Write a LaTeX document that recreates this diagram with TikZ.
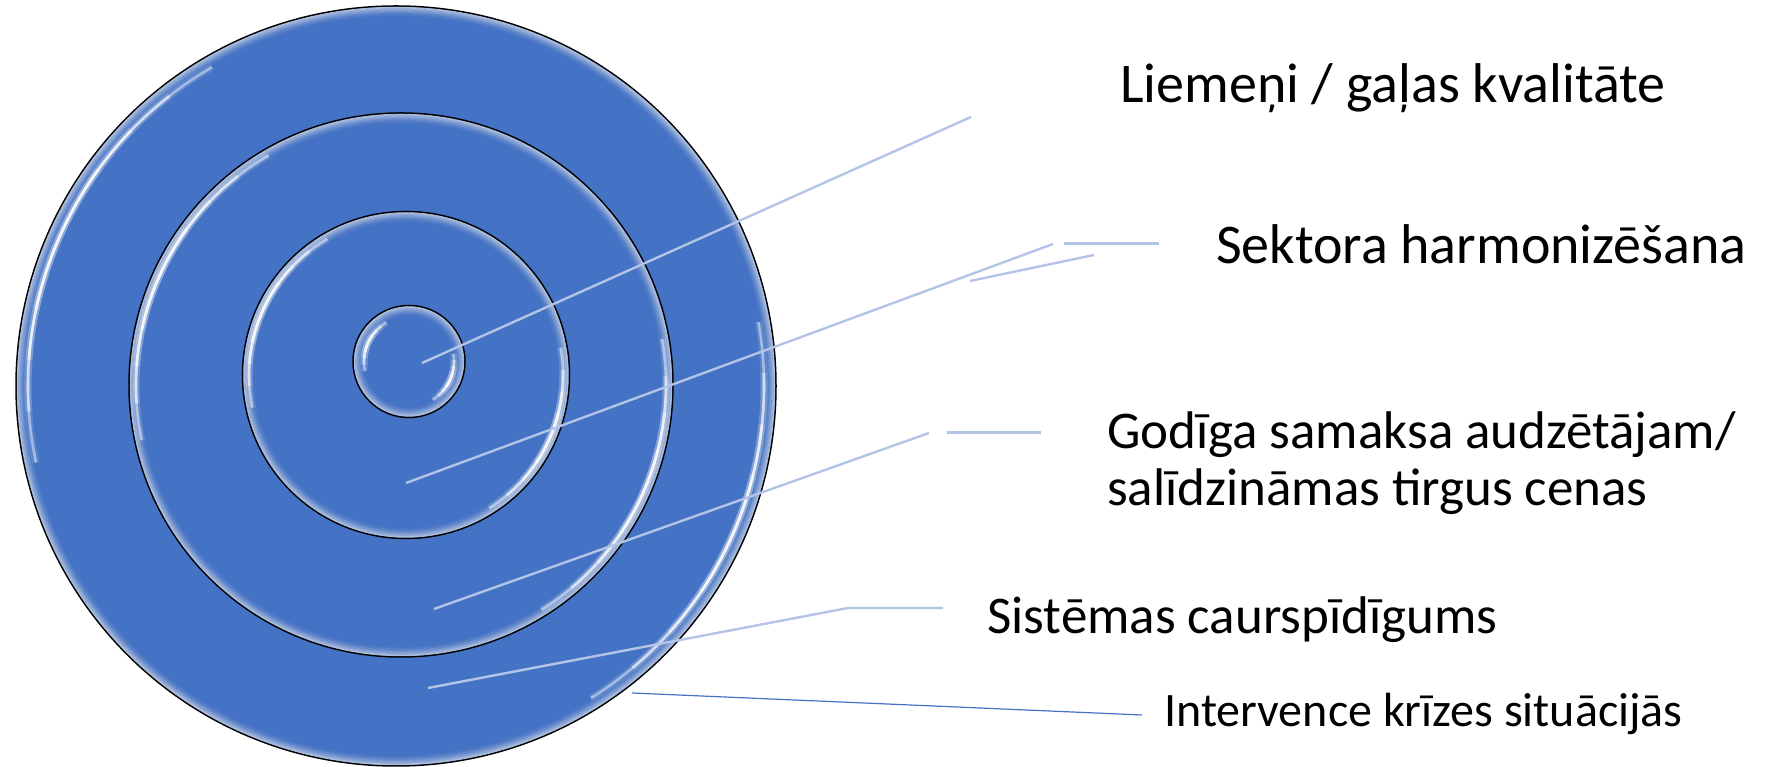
\documentclass[tikz,border=0pt]{standalone}
\usepackage{fontspec}
\setmainfont{Carlito}
\usetikzlibrary{calc,positioning}

\definecolor{discblue}{RGB}{68,114,196}
\definecolor{leadcol}{RGB}{180,196,230}

\tikzset{
  disc/.style={circle, inner sep=0pt, outer sep=0pt, fill=discblue, draw=black, line width=1.5pt, minimum size=#1},
  leader/.style={leadcol, line width=2.4pt},
  stub/.style={leadcol, line width=3pt},
  caption/.style={anchor=base west, inner sep=0pt, align=left, font=\fontsize{56}{57}\selectfont},
}

% soft bevel and glints inside one disc: centre, radius, glint radius
\newcommand\bevel[3]{%
  \foreach \k/\o in {1/.6,2/.45,3/.32,4/.2,5/.1,6/.04}
    \draw[white!85!gray, opacity=\o, line width=1.6pt] (#1) circle[radius={#2-\k*1.6}];
  \foreach \s in {0,8,16,24}{
    \draw[white, opacity=.12, line width=7pt] (#1) ++(120+\s:#3) arc[start angle=120+\s, end angle=192-\s, radius=#3];
    \draw[white, opacity=.12, line width=7pt] (#1) ++(10-\s:#3) arc[start angle=10-\s, end angle=-58+\s, radius=#3];
    \draw[white, opacity=.45, line width=2.6pt] (#1) ++(120+\s:#3) arc[start angle=120+\s, end angle=192-\s, radius=#3];
    \draw[white, opacity=.45, line width=2.6pt] (#1) ++(10-\s:#3) arc[start angle=10-\s, end angle=-58+\s, radius=#3];
  }
}

\begin{document}
\begin{tikzpicture}[x=1pt, y=1pt]
\useasboundingbox (0,0) rectangle (1765,767);

\node[disc=760] (outer) at (396,381) {};
\bevel{outer.center}{380}{368}
\node[disc=544] (ring) at (401,382) {};
\bevel{ring.center}{272}{265}
\node[disc=327] (mid) at (406,392) {};
\bevel{mid.center}{163.5}{157}
\node[disc=112] (core) at (409,405.5) {};
\bevel{core.center}{56}{45}

% labels
\node[caption] (quality) at (1120,664) {Liemeņi / gaļas kvalitāte};
\node[caption] (sector) at (1216,503) {Sektora harmonizēšana};
\node[caption, font=\fontsize{53}{57}\selectfont] (price) at (1107,261) {Godīga samaksa audzētājam/\\salīdzināmas tirgus cenas};
\node[caption, font=\fontsize{53}{57}\selectfont] (clear) at (987,133) {Sistēmas caurspīdīgums};
\node[caption, font=\fontsize{48}{50}\selectfont] (crisis) at (1164,40) {Intervence krīzes situācijās};

% leader ends
\coordinate (q0) at (422,404);   \coordinate (q1) at (971,650);
\coordinate (s0) at (406,284);   \coordinate (s1) at (1053,523);
\coordinate (s2) at (1064,523);  \coordinate (s3) at (1159,523);
\coordinate (s4) at (970,486);   \coordinate (s5) at (1094,512);
\coordinate (p0) at (434,158);   \coordinate (p1) at (929,334);
\coordinate (p2) at (947,334);   \coordinate (p3) at (1041,334);
\coordinate (c0) at (428,79);    \coordinate (c1) at (848,159);
\coordinate (c2) at (943,159);
\coordinate (k0) at (632,74);    \coordinate (k1) at (1142,52);

\draw[leader] (q0) -- (q1);
\draw[leader] (s0) -- (s1);
\draw[stub] (s2) -- (s3);
\draw[leader] (s4) -- (s5);
\draw[leader] (p0) -- (p1);
\draw[stub] (p2) -- (p3);
\draw[leader] (c0) -- (c1) -- (c2);
\draw[discblue, line width=1.2pt] (k0) -- (k1);
\end{tikzpicture}
\end{document}
